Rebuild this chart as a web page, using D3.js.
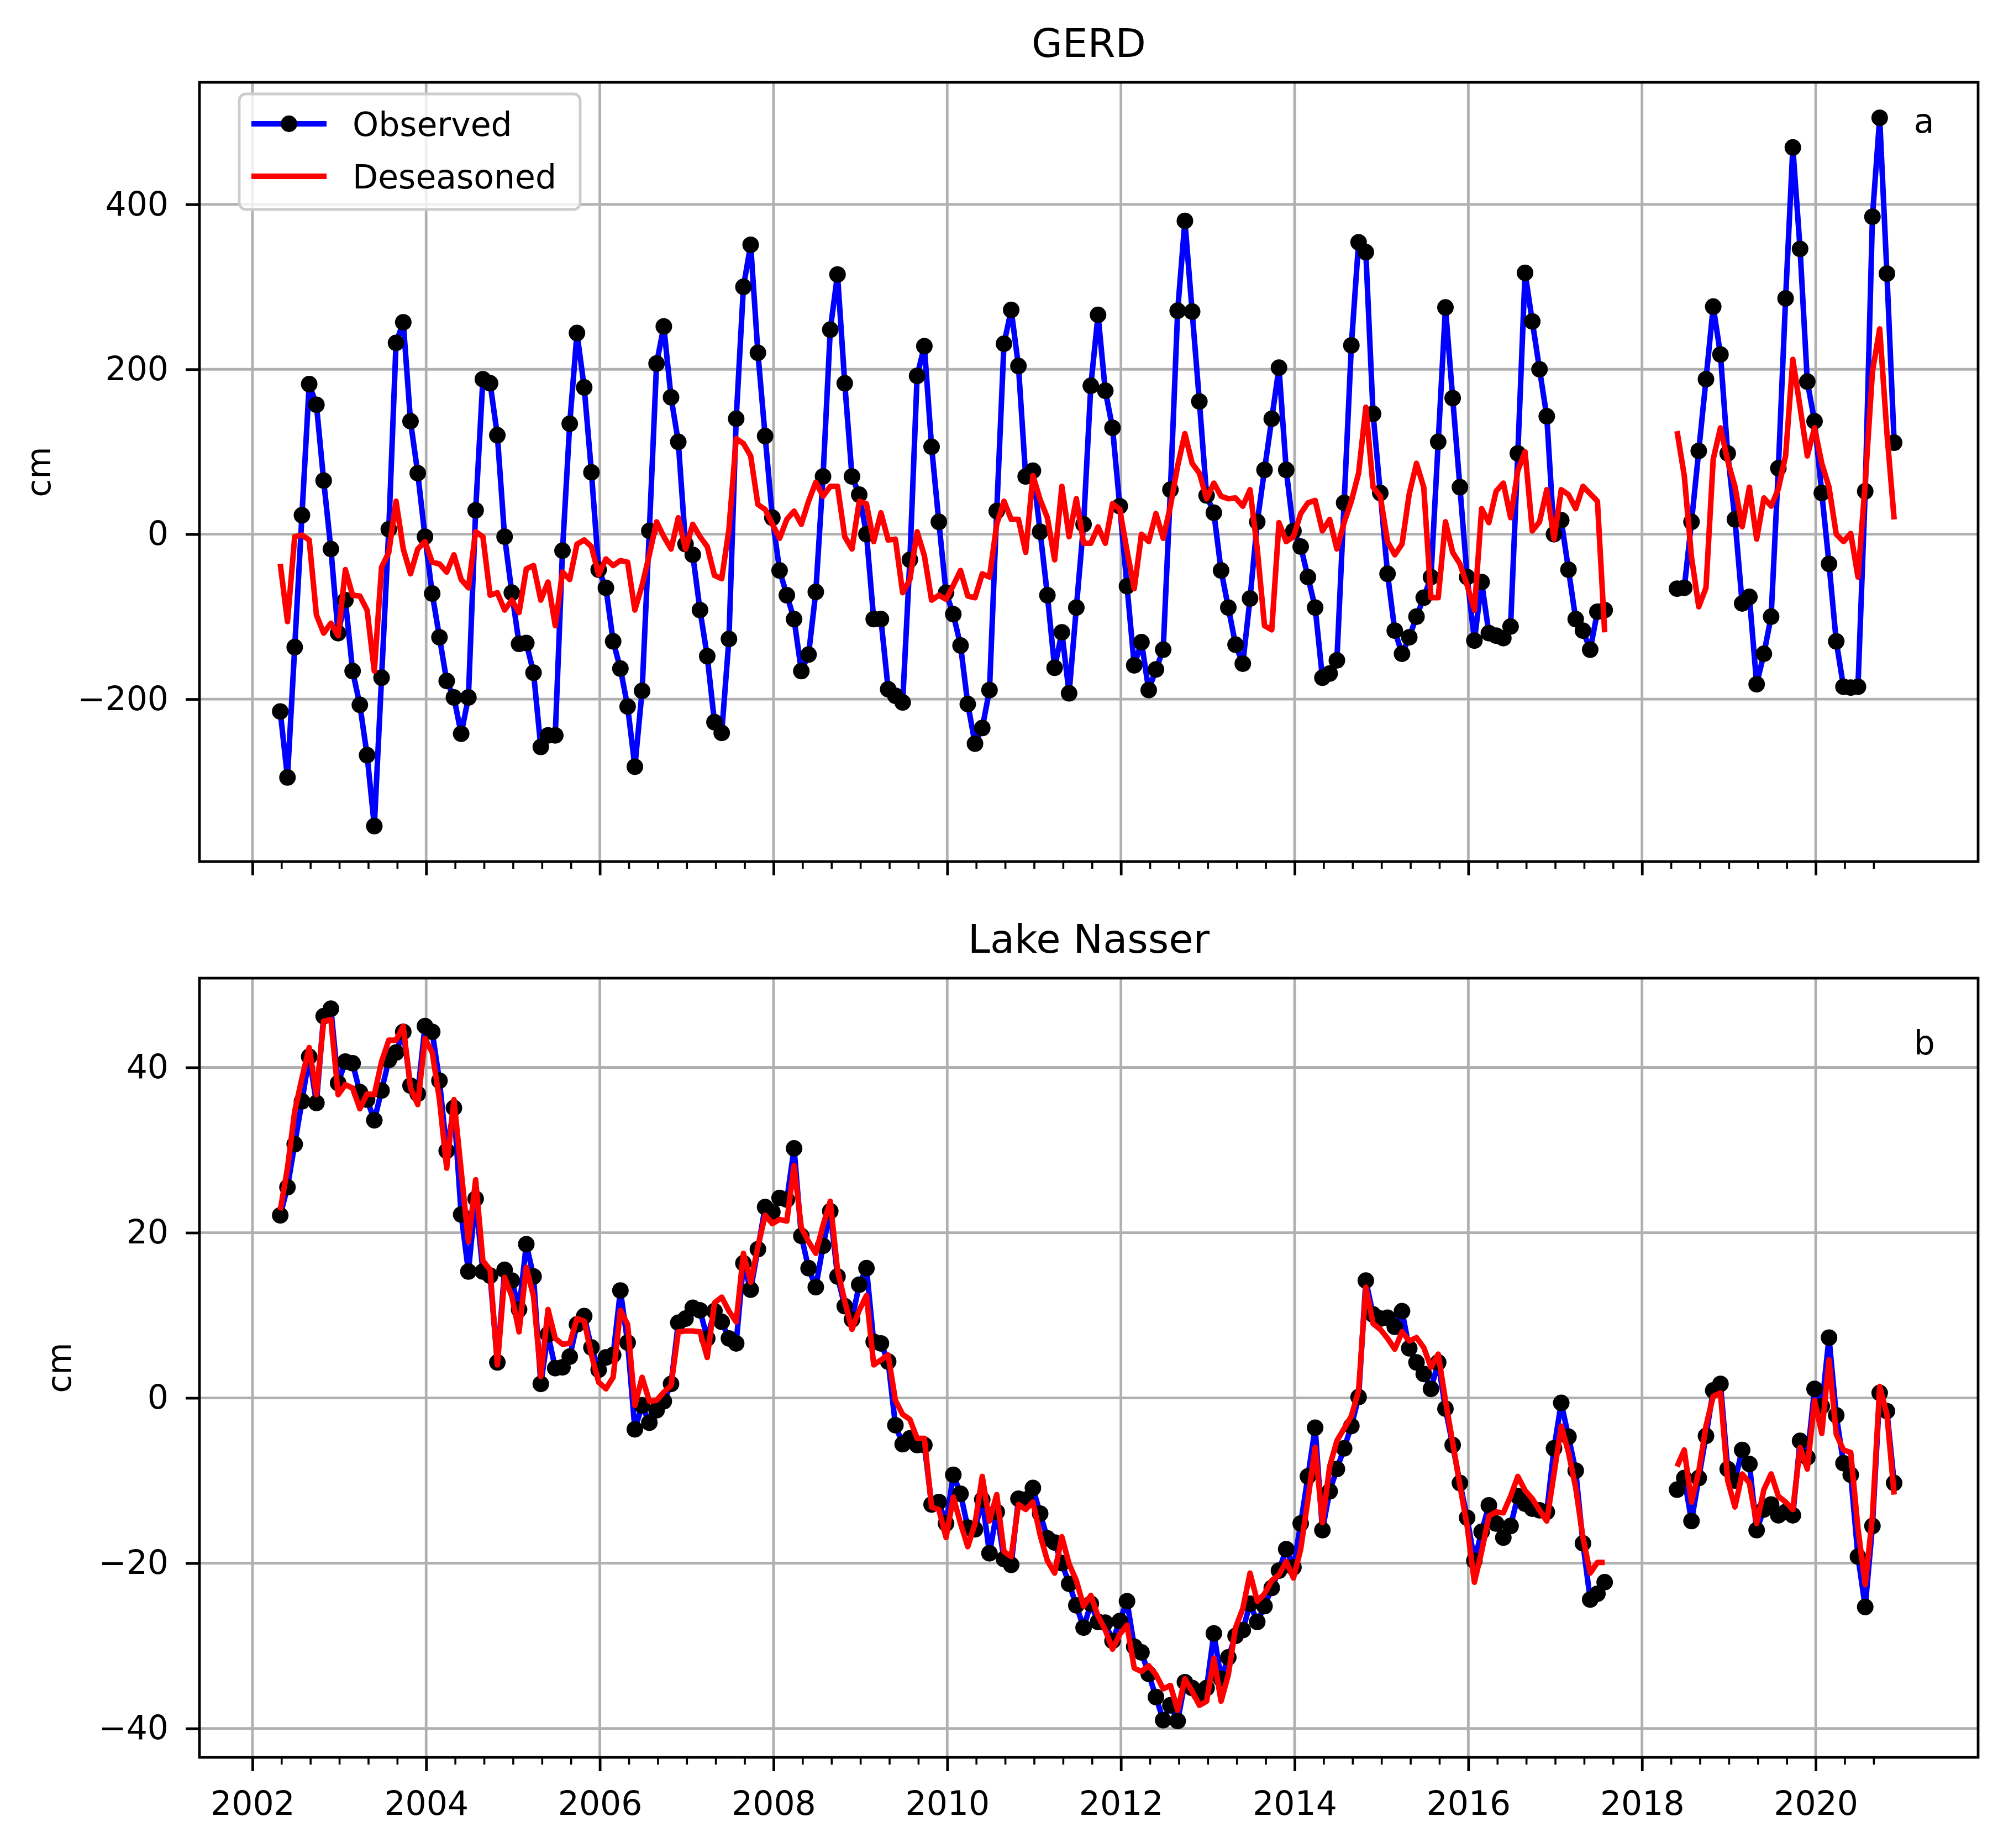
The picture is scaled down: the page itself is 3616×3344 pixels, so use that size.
<!DOCTYPE html>
<html>
<head>
<meta charset="utf-8">
<script src="https://cdn.jsdelivr.net/npm/d3@7"></script>
<style>
  body { margin: 0; background: #fff; }
  text { font-family: "DejaVu Sans", sans-serif; }
</style>
</head>
<body>
<div id="chart"></div>
<script>
// GRACE months, first mission (Apr 2002 - Jul 2017) and GRACE-FO (May 2018 - Nov 2020)
const months1 = [
  "2002-04","2002-05","2002-06","2002-07","2002-08","2002-09","2002-10","2002-11","2002-12",
  "2003-01","2003-02","2003-03","2003-04","2003-05","2003-06","2003-07","2003-08","2003-09","2003-10","2003-11","2003-12",
  "2004-01","2004-02","2004-03","2004-04","2004-05","2004-06","2004-07","2004-08","2004-09","2004-10","2004-11","2004-12",
  "2005-01","2005-02","2005-03","2005-04","2005-05","2005-06","2005-07","2005-08","2005-09","2005-10","2005-11","2005-12",
  "2006-01","2006-02","2006-03","2006-04","2006-05","2006-06","2006-07","2006-08","2006-09","2006-10","2006-11","2006-12",
  "2007-01","2007-02","2007-03","2007-04","2007-05","2007-06","2007-07","2007-08","2007-09","2007-10","2007-11","2007-12",
  "2008-01","2008-02","2008-03","2008-04","2008-05","2008-06","2008-07","2008-08","2008-09","2008-10","2008-11","2008-12",
  "2009-01","2009-02","2009-03","2009-04","2009-05","2009-06","2009-07","2009-08","2009-09","2009-10","2009-11","2009-12",
  "2010-01","2010-02","2010-03","2010-04","2010-05","2010-06","2010-07","2010-08","2010-09","2010-10","2010-11","2010-12",
  "2011-01","2011-02","2011-03","2011-04","2011-05","2011-06","2011-07","2011-08","2011-09","2011-10","2011-11","2011-12",
  "2012-01","2012-02","2012-03","2012-04","2012-05","2012-06","2012-07","2012-08","2012-09","2012-10","2012-11","2012-12",
  "2013-01","2013-02","2013-03","2013-04","2013-05","2013-06","2013-07","2013-08","2013-09","2013-10","2013-11","2013-12",
  "2014-01","2014-02","2014-03","2014-04","2014-05","2014-06","2014-07","2014-08","2014-09","2014-10","2014-11","2014-12",
  "2015-01","2015-02","2015-03","2015-04","2015-05","2015-06","2015-07","2015-08","2015-09","2015-10","2015-11","2015-12",
  "2016-01","2016-02","2016-03","2016-04","2016-05","2016-06","2016-07","2016-08","2016-09","2016-10","2016-11","2016-12",
  "2017-01","2017-02","2017-03","2017-04","2017-05","2017-06","2017-07"
];
const months2 = [
  "2018-05","2018-06","2018-07","2018-08","2018-09","2018-10","2018-11","2018-12",
  "2019-01","2019-02","2019-03","2019-04","2019-05","2019-06","2019-07","2019-08","2019-09","2019-10","2019-11","2019-12",
  "2020-01","2020-02","2020-03","2020-04","2020-05","2020-06","2020-07","2020-08","2020-09","2020-10","2020-11"
];

// GERD (cm)
const gerdObs1 = [
  -215,-295,-137,23,182,157,65,-18,-120,-80,
  -166,-207,-268,-354,-174,6,232,257,137,74,
  -3,-72,-125,-178,-198,-242,-198,29,188,183,
  120,-3,-71,-133,-132,-168,-258,-244,-244,-20,
  134,244,178,75,-43,-65,-130,-163,-209,-282,
  -190,4,207,252,166,112,-12,-25,-92,-148,
  -228,-241,-127,140,300,351,220,119,20,-44,
  -74,-103,-166,-146,-70,70,248,315,183,70,
  48,0,-103,-103,-188,-196,-204,-31,192,228,
  106,15,-71,-97,-135,-206,-254,-235,-189,28,
  231,272,204,70,77,3,-74,-162,-119,-193,
  -89,12,180,266,174,129,34,-63,-159,-131,
  -189,-164,-140,54,271,380,270,161,47,26,
  -44,-89,-134,-157,-78,15,78,140,202,78,
  4,-15,-52,-89,-174,-169,-153,38,229,354,
  342,146,50,-48,-117,-145,-125,-100,-77,-52,
  112,275,165,57,-52,-129,-58,-120,-123,-126,
  -112,98,317,258,200,143,0,17,-43,-103,
  -117,-140,-94,-92
];
const gerdDes1 = [
  -36,-106,-3,-1,-7,-98,-120,-108,-123,-43,
  -74,-75,-92,-166,-40,-22,40,-18,-48,-18,
  -9,-34,-36,-46,-25,-55,-65,3,-3,-74,
  -71,-92,-80,-95,-42,-38,-80,-58,-111,-46,
  -55,-12,-7,-15,-49,-30,-38,-32,-34,-92,
  -62,-25,15,-3,-18,20,-18,12,-3,-15,
  -50,-54,6,116,110,95,36,30,12,-5,
  18,28,12,40,63,46,58,58,-3,-18,
  40,37,-9,26,-7,-6,-71,-55,3,-26,
  -80,-74,-79,-62,-44,-75,-77,-48,-52,12,
  40,18,18,-22,71,42,20,-31,58,-3,
  43,-11,-11,9,-11,37,30,-20,-66,0,
  -9,25,-5,34,83,122,86,74,43,62,
  46,43,44,34,54,-18,-111,-116,14,-9,
  -3,25,38,41,4,18,-18,14,40,74,
  154,57,46,-9,-25,-12,49,86,57,-77,
  -77,15,-22,-36,-62,-92,31,14,52,62,
  20,77,100,4,15,54,-6,54,48,31,
  58,49,40,-119
];
const gerdObs2 = [
  -66,-65,15,101,188,276,218,98,18,-84,-76,-182,-145,-100,80,286,
  469,346,185,137,50,-36,-130,-185,-186,-185,52,385,505,316,111
];
const gerdDes2 = [
  125,71,-28,-88,-65,91,129,89,58,9,57,-6,44,34,55,95,
  212,154,95,129,86,57,0,-9,1,-52,62,197,249,123,18
];

// Lake Nasser (cm)
const nasserObs1 = [
  22.1,25.5,30.7,35.9,41.3,35.7,46.2,47.1,38.1,40.7,
  40.5,37.0,36.1,33.6,37.2,40.9,41.8,44.3,37.8,36.8,
  45.0,44.3,38.4,29.9,35.1,22.2,15.3,24.1,15.3,14.8,
  4.3,15.5,14.2,10.7,18.6,14.7,1.7,7.7,3.6,3.7,
  5.0,8.9,9.9,6.1,3.4,4.9,5.2,13.0,6.7,-3.8,
  -0.9,-3.0,-1.5,-0.4,1.7,9.1,9.6,10.9,10.6,7.2,
  10.5,9.2,7.2,6.6,16.3,13.1,18.0,23.1,22.5,24.2,
  24.0,30.2,19.6,15.7,13.4,18.4,22.6,14.7,11.1,9.5,
  13.7,15.7,6.8,6.6,4.4,-3.3,-5.6,-4.9,-5.7,-5.7,
  -12.9,-12.6,-15.2,-9.3,-11.6,-15.7,-15.9,-12.3,-18.8,-13.8,
  -19.5,-20.2,-12.2,-12.3,-10.9,-14.0,-17.0,-17.5,-20.0,-22.5,
  -25.1,-27.8,-24.9,-27.1,-27.2,-29.4,-27.0,-24.6,-30.1,-30.8,
  -33.4,-36.2,-39.0,-37.2,-39.1,-34.4,-35.1,-35.8,-35.1,-28.5,
  -34.0,-31.4,-28.8,-28.1,-24.9,-27.1,-25.2,-23.0,-20.9,-18.3,
  -20.5,-15.2,-9.5,-3.6,-16.0,-11.3,-8.6,-6.1,-3.4,0.1,
  14.2,10.1,9.6,9.7,8.6,10.5,6.0,4.3,2.9,1.1,
  4.3,-1.3,-5.7,-10.3,-14.5,-19.7,-16.2,-13.0,-15.2,-16.9,
  -15.5,-11.9,-12.8,-13.4,-13.6,-13.8,-6.1,-0.6,-4.7,-8.8,
  -17.6,-24.4,-23.7,-22.3
];
const nasserDes1 = [
  22.7,27.8,34.7,38.7,42.4,36.7,45.6,45.8,36.7,37.9,
  37.5,35.0,36.8,36.7,40.7,43.3,43.3,45.0,37.5,35.5,
  43.5,41.8,36.1,27.8,36.1,27.5,18.9,26.4,16.6,15.5,
  4.0,14.6,12.3,8.0,15.8,12.3,2.6,10.7,7.2,6.5,
  6.6,9.6,9.3,5.2,1.9,1.1,2.5,10.6,8.9,-0.9,
  2.5,-0.4,-0.3,0.7,1.5,8.0,8.1,8.1,8.0,4.9,
  11.5,12.2,10.5,9.2,17.5,14.0,18.3,22.1,21.1,21.6,
  21.4,28.1,20.6,18.9,17.5,20.9,23.8,15.5,11.7,8.3,
  10.6,12.4,4.0,4.6,5.2,-0.3,-2.0,-2.6,-4.9,-4.9,
  -13.2,-13.5,-16.9,-12.0,-15.2,-18.0,-15.2,-9.5,-14.9,-11.7,
  -18.6,-19.2,-12.9,-13.5,-12.6,-16.6,-19.7,-21.2,-16.8,-20.1,
  -22.1,-25.2,-23.9,-26.4,-28.1,-30.4,-28.6,-27.5,-32.7,-33.1,
  -32.4,-33.5,-35.2,-34.8,-37.8,-34.0,-35.5,-37.2,-36.7,-31.5,
  -36.7,-33.5,-27.8,-25.5,-21.2,-24.6,-23.7,-22.1,-21.4,-19.8,
  -21.8,-18.3,-12.3,-6.0,-15.1,-8.3,-5.2,-3.7,-2.2,0.9,
  13.4,9.0,8.3,7.2,5.9,8.0,6.9,7.3,6.1,3.7,
  5.3,-0.3,-5.4,-10.6,-15.5,-22.3,-18.6,-14.3,-13.8,-13.9,
  -11.9,-9.5,-11.2,-12.2,-13.6,-14.9,-9.2,-3.4,-6.6,-10.9,
  -16.9,-21.2,-19.9,-19.9
];
const nasserObs2 = [
  -11.1,-9.7,-14.9,-9.7,-4.6,0.9,1.7,-8.6,-10.0,-6.3,-8.0,-16.0,-13.5,-12.9,-14.2,-13.8,
  -14.2,-5.2,-7.2,1.1,-1.0,7.3,-2.1,-7.9,-9.3,-19.2,-25.3,-15.5,0.6,-1.6,-10.3
];
const nasserDes2 = [
  -8.3,-6.3,-12.6,-8.9,-3.4,0.2,0.6,-10.0,-13.2,-9.2,-10.3,-15.2,-11.1,-9.2,-11.9,-12.6,
  -13.5,-6.0,-8.6,-0.3,-4.3,4.6,-4.4,-6.3,-6.6,-15.8,-22.6,-14.3,1.4,-2.0,-11.7
];

// tick values
const yearTicks = [2002, 2004, 2006, 2008, 2010, 2012, 2014, 2016, 2018, 2020];
const gerdTicks = [-200, 0, 200, 400];
const nasserTicks = [-40, -20, 0, 20, 40];

// month string -> decimal year (samples sit late in the month)
function toYear(s) {
  const [yy, mm] = s.split("-").map(Number);
  return yy + (mm - 1 + 0.84) / 12;
}

const W = 3616, H = 3344;
const left = 361, right = 3580;

const svg = d3.select("#chart").append("svg")
  .attr("width", W)
  .attr("height", H)
  .style("background", "#fff");

const x = d3.scaleLinear().domain([2001.39, 2021.87]).range([left, right]);

// minor ticks every 4 months
const minorTicks = d3.range(0, 57).filter(n => n % 6 !== 0).map(n => 2002 + n / 3);

function drawPanel(cfg) {
  const y = d3.scaleLinear().domain(cfg.yDomain).range([cfg.bottom, cfg.top]);
  const g = svg.append("g");

  // grid
  g.append("g").selectAll("line").data(yearTicks).join("line")
    .attr("x1", d => x(d)).attr("x2", d => x(d))
    .attr("y1", cfg.top).attr("y2", cfg.bottom)
    .attr("stroke", "#b0b0b0").attr("stroke-width", 4.8);
  g.append("g").selectAll("line").data(cfg.yTicks).join("line")
    .attr("x1", left).attr("x2", right)
    .attr("y1", d => y(d)).attr("y2", d => y(d))
    .attr("stroke", "#b0b0b0").attr("stroke-width", 4.8);

  const line = d3.line().x(d => x(d[0])).y(d => y(d[1]));

  // observed: blue line with black dots
  cfg.segments.forEach(s => {
    const pts = d3.zip(s.months.map(toYear), s.obs);
    g.append("path")
      .attr("d", line(pts))
      .attr("fill", "none")
      .attr("stroke", "#0000ff")
      .attr("stroke-width", 10)
      .attr("stroke-linejoin", "round");
    g.append("g").selectAll("circle").data(pts).join("circle")
      .attr("cx", d => x(d[0]))
      .attr("cy", d => y(d[1]))
      .attr("r", 15)
      .attr("fill", "#000");
  });

  // deseasoned: red line
  cfg.segments.forEach(s => {
    const pts = d3.zip(s.months.map(toYear), s.des);
    g.append("path")
      .attr("d", line(pts))
      .attr("fill", "none")
      .attr("stroke", "#ff0000")
      .attr("stroke-width", 10)
      .attr("stroke-linejoin", "round");
  });

  // axes
  const xMajor = d3.axisBottom(x).tickValues(yearTicks).tickSize(25).tickPadding(36)
    .tickFormat(cfg.xLabels ? d3.format("d") : "");
  const xMinor = d3.axisBottom(x).tickValues(minorTicks).tickSize(13).tickFormat("");
  const yAxis = d3.axisLeft(y).tickValues(cfg.yTicks).tickSize(25).tickPadding(31);

  const gx = g.append("g").attr("transform", `translate(0,${cfg.bottom})`).call(xMajor);
  const gxm = g.append("g").attr("transform", `translate(0,${cfg.bottom})`).call(xMinor);
  const gy = g.append("g").attr("transform", `translate(${left},0)`).call(yAxis);

  [gx, gxm, gy].forEach(a => {
    a.select(".domain").remove();
    a.attr("font-size", 60).attr("font-family", "DejaVu Sans");
  });
  gx.selectAll("line").attr("stroke-width", 4.8);
  gy.selectAll("line").attr("stroke-width", 4.8);
  gxm.selectAll("line").attr("stroke-width", 3.6);

  // frame
  g.append("rect")
    .attr("x", left).attr("y", cfg.top)
    .attr("width", right - left).attr("height", cfg.bottom - cfg.top)
    .attr("fill", "none").attr("stroke", "#000").attr("stroke-width", 4.8);

  // title
  g.append("text")
    .attr("x", (left + right) / 2).attr("y", cfg.top - 46)
    .attr("text-anchor", "middle").attr("font-size", 72)
    .text(cfg.title);

  // y label
  g.append("text")
    .attr("transform", `translate(${cfg.ylabelX},${(cfg.top + cfg.bottom) / 2}) rotate(-90)`)
    .attr("text-anchor", "middle").attr("font-size", 60)
    .text("cm");

  // panel letter
  g.append("text")
    .attr("x", x(2021.13)).attr("y", y(cfg.letterY))
    .attr("font-size", 60)
    .text(cfg.letter);
}

drawPanel({
  title: "GERD", letter: "a", letterY: 487,
  top: 149, bottom: 1559, yDomain: [-397, 548], yTicks: gerdTicks,
  ylabelX: 91, xLabels: false,
  segments: [
    { months: months1, obs: gerdObs1, des: gerdDes1 },
    { months: months2, obs: gerdObs2, des: gerdDes2 }
  ]
});

drawPanel({
  title: "Lake Nasser", letter: "b", letterY: 41.6,
  top: 1770, bottom: 3180, yDomain: [-43.5, 50.8], yTicks: nasserTicks,
  ylabelX: 128, xLabels: true,
  segments: [
    { months: months1, obs: nasserObs1, des: nasserDes1 },
    { months: months2, obs: nasserObs2, des: nasserDes2 }
  ]
});

// legend (top panel)
const legend = svg.append("g");
legend.append("rect")
  .attr("x", 433).attr("y", 170).attr("width", 617).attr("height", 209)
  .attr("rx", 12)
  .attr("fill", "#fff").attr("fill-opacity", 0.8)
  .attr("stroke", "#cccccc").attr("stroke-width", 4.8);
legend.append("line")
  .attr("x1", 455).attr("x2", 591).attr("y1", 224).attr("y2", 224)
  .attr("stroke", "#0000ff").attr("stroke-width", 10);
legend.append("circle")
  .attr("cx", 523).attr("cy", 224).attr("r", 15).attr("fill", "#000");
legend.append("line")
  .attr("x1", 455).attr("x2", 591).attr("y1", 319).attr("y2", 319)
  .attr("stroke", "#ff0000").attr("stroke-width", 10);
legend.append("text").attr("x", 638).attr("y", 246).attr("font-size", 60).text("Observed");
legend.append("text").attr("x", 638).attr("y", 341).attr("font-size", 60).text("Deseasoned");
</script>
</body>
</html>
